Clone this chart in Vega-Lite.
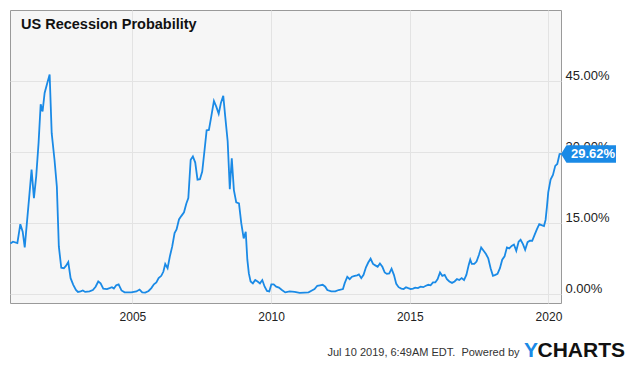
{
  "$schema": "https://vega.github.io/schema/vega-lite/v6.json",
  "width": 551,
  "height": 293,
  "autosize": {"type": "none"},
  "padding": {"left": 10, "top": 10, "right": 74, "bottom": 63},
  "background": "white",
  "config": {
    "view": {"fill": "#f6f6f6", "stroke": "#9a9a9a", "strokeWidth": 1},
    "font": "Liberation Sans"
  },
  "title": {
    "text": "US Recession Probability",
    "anchor": "start",
    "frame": "group",
    "orient": "top",
    "offset": 0,
    "dx": 11,
    "dy": 22,
    "fontSize": 14.5,
    "fontWeight": "bold",
    "color": "#111111"
  },
  "datasets": {
    "rp": [
      {"date": "2000-08-08", "value": 10.7},
      {"date": "2000-09-11", "value": 11.1},
      {"date": "2000-11-08", "value": 10.8},
      {"date": "2000-12-17", "value": 14.8},
      {"date": "2001-01-17", "value": 13.2},
      {"date": "2001-02-13", "value": 9.9},
      {"date": "2001-03-17", "value": 15.7},
      {"date": "2001-04-17", "value": 21.3},
      {"date": "2001-05-14", "value": 26.3},
      {"date": "2001-06-14", "value": 20.3},
      {"date": "2001-07-14", "value": 24.9},
      {"date": "2001-08-14", "value": 31.9},
      {"date": "2001-09-11", "value": 40.1},
      {"date": "2001-10-06", "value": 38.6},
      {"date": "2001-11-02", "value": 42.5},
      {"date": "2001-12-07", "value": 44.6},
      {"date": "2002-01-07", "value": 46.4},
      {"date": "2002-02-03", "value": 34.0},
      {"date": "2002-03-12", "value": 28.4},
      {"date": "2002-04-12", "value": 22.7},
      {"date": "2002-05-08", "value": 10.1},
      {"date": "2002-06-09", "value": 5.6},
      {"date": "2002-07-13", "value": 5.5},
      {"date": "2002-08-09", "value": 6.0},
      {"date": "2002-09-09", "value": 6.8},
      {"date": "2002-10-10", "value": 3.4},
      {"date": "2002-11-14", "value": 2.0},
      {"date": "2002-12-19", "value": 0.9},
      {"date": "2003-01-15", "value": 0.5},
      {"date": "2003-02-19", "value": 0.6},
      {"date": "2003-03-20", "value": 0.8},
      {"date": "2003-04-20", "value": 0.5},
      {"date": "2003-06-16", "value": 0.6},
      {"date": "2003-07-30", "value": 0.9},
      {"date": "2003-09-04", "value": 1.6},
      {"date": "2003-10-09", "value": 2.7},
      {"date": "2003-11-09", "value": 2.3},
      {"date": "2003-12-14", "value": 1.2},
      {"date": "2004-02-01", "value": 1.1},
      {"date": "2004-03-06", "value": 1.3},
      {"date": "2004-04-06", "value": 1.5},
      {"date": "2004-05-02", "value": 1.2},
      {"date": "2004-06-02", "value": 1.9},
      {"date": "2004-07-03", "value": 2.1},
      {"date": "2004-08-10", "value": 0.8},
      {"date": "2004-09-20", "value": 0.4},
      {"date": "2004-12-17", "value": 0.4},
      {"date": "2005-02-22", "value": 0.6},
      {"date": "2005-04-05", "value": 1.0},
      {"date": "2005-05-10", "value": 0.4},
      {"date": "2005-06-19", "value": 0.35},
      {"date": "2005-08-02", "value": 0.7},
      {"date": "2005-09-07", "value": 1.3},
      {"date": "2005-10-11", "value": 2.1},
      {"date": "2005-11-12", "value": 2.5},
      {"date": "2005-12-12", "value": 3.4},
      {"date": "2006-01-16", "value": 3.9},
      {"date": "2006-02-13", "value": 4.8},
      {"date": "2006-03-09", "value": 6.4},
      {"date": "2006-04-09", "value": 5.5},
      {"date": "2006-05-09", "value": 8.0},
      {"date": "2006-06-09", "value": 10.1},
      {"date": "2006-07-10", "value": 12.9},
      {"date": "2006-08-05", "value": 13.7},
      {"date": "2006-09-06", "value": 15.8},
      {"date": "2006-10-06", "value": 16.5},
      {"date": "2006-11-11", "value": 17.3},
      {"date": "2006-12-11", "value": 19.1},
      {"date": "2007-01-07", "value": 20.3},
      {"date": "2007-02-07", "value": 28.4},
      {"date": "2007-03-08", "value": 29.1},
      {"date": "2007-04-08", "value": 27.8},
      {"date": "2007-05-08", "value": 24.2},
      {"date": "2007-06-09", "value": 24.3},
      {"date": "2007-07-09", "value": 25.9},
      {"date": "2007-08-09", "value": 30.5},
      {"date": "2007-09-05", "value": 34.6},
      {"date": "2007-10-05", "value": 34.7},
      {"date": "2007-11-05", "value": 37.5},
      {"date": "2007-12-10", "value": 40.8},
      {"date": "2008-01-10", "value": 39.6},
      {"date": "2008-02-11", "value": 38.1},
      {"date": "2008-03-11", "value": 40.4},
      {"date": "2008-04-11", "value": 41.9},
      {"date": "2008-05-07", "value": 37.5},
      {"date": "2008-06-08", "value": 32.3},
      {"date": "2008-07-06", "value": 22.2},
      {"date": "2008-08-01", "value": 28.7},
      {"date": "2008-08-29", "value": 22.0},
      {"date": "2008-09-29", "value": 19.4},
      {"date": "2008-11-04", "value": 19.2},
      {"date": "2008-12-04", "value": 15.0},
      {"date": "2009-01-05", "value": 11.8},
      {"date": "2009-02-01", "value": 13.2},
      {"date": "2009-02-22", "value": 7.3},
      {"date": "2009-03-14", "value": 4.4},
      {"date": "2009-04-06", "value": 2.7},
      {"date": "2009-05-06", "value": 2.3},
      {"date": "2009-06-06", "value": 3.0},
      {"date": "2009-07-07", "value": 2.7},
      {"date": "2009-08-07", "value": 2.3},
      {"date": "2009-09-07", "value": 3.0},
      {"date": "2009-10-08", "value": 1.6},
      {"date": "2009-11-08", "value": 0.7},
      {"date": "2009-12-08", "value": 0.6},
      {"date": "2010-01-04", "value": 2.1},
      {"date": "2010-02-04", "value": 2.1},
      {"date": "2010-03-09", "value": 1.6},
      {"date": "2010-04-14", "value": 1.4},
      {"date": "2010-05-23", "value": 0.9},
      {"date": "2010-07-06", "value": 0.4},
      {"date": "2010-09-02", "value": 0.6},
      {"date": "2010-11-07", "value": 0.5},
      {"date": "2011-01-12", "value": 0.3},
      {"date": "2011-03-16", "value": 0.35},
      {"date": "2011-05-09", "value": 0.4},
      {"date": "2011-06-22", "value": 0.8},
      {"date": "2011-07-27", "value": 1.1},
      {"date": "2011-09-01", "value": 1.8},
      {"date": "2011-10-06", "value": 1.9},
      {"date": "2011-11-11", "value": 2.0},
      {"date": "2011-12-15", "value": 1.6},
      {"date": "2012-01-11", "value": 0.9},
      {"date": "2012-03-03", "value": 0.6},
      {"date": "2012-04-25", "value": 0.6},
      {"date": "2012-06-08", "value": 0.9},
      {"date": "2012-08-04", "value": 1.1},
      {"date": "2012-08-26", "value": 2.3},
      {"date": "2012-09-30", "value": 3.7},
      {"date": "2012-11-01", "value": 3.2},
      {"date": "2012-12-01", "value": 3.7},
      {"date": "2013-01-06", "value": 3.9},
      {"date": "2013-02-06", "value": 4.0},
      {"date": "2013-03-02", "value": 4.2},
      {"date": "2013-04-02", "value": 3.4},
      {"date": "2013-05-02", "value": 4.1},
      {"date": "2013-06-03", "value": 5.7},
      {"date": "2013-07-03", "value": 6.7},
      {"date": "2013-08-03", "value": 7.5},
      {"date": "2013-09-04", "value": 6.4},
      {"date": "2013-10-04", "value": 6.1},
      {"date": "2013-11-04", "value": 5.8},
      {"date": "2013-12-04", "value": 6.5},
      {"date": "2014-01-05", "value": 5.8},
      {"date": "2014-02-05", "value": 4.6},
      {"date": "2014-03-05", "value": 4.3},
      {"date": "2014-04-06", "value": 4.4},
      {"date": "2014-05-06", "value": 5.4},
      {"date": "2014-06-06", "value": 4.1},
      {"date": "2014-07-07", "value": 2.2},
      {"date": "2014-08-07", "value": 1.5},
      {"date": "2014-09-11", "value": 1.2},
      {"date": "2014-10-12", "value": 1.1},
      {"date": "2014-11-12", "value": 1.5},
      {"date": "2014-12-12", "value": 1.3},
      {"date": "2015-01-13", "value": 1.1},
      {"date": "2015-02-13", "value": 1.2},
      {"date": "2015-03-13", "value": 1.4},
      {"date": "2015-04-18", "value": 1.3},
      {"date": "2015-05-23", "value": 1.6},
      {"date": "2015-06-27", "value": 1.5},
      {"date": "2015-08-01", "value": 1.8},
      {"date": "2015-09-02", "value": 2.0},
      {"date": "2015-10-02", "value": 1.9},
      {"date": "2015-11-02", "value": 2.5},
      {"date": "2015-12-03", "value": 2.5},
      {"date": "2016-01-03", "value": 3.2},
      {"date": "2016-02-03", "value": 4.6},
      {"date": "2016-03-04", "value": 3.9},
      {"date": "2016-04-04", "value": 4.1},
      {"date": "2016-05-04", "value": 3.2},
      {"date": "2016-06-05", "value": 2.7},
      {"date": "2016-07-10", "value": 2.4},
      {"date": "2016-08-13", "value": 2.7},
      {"date": "2016-09-13", "value": 3.2},
      {"date": "2016-10-14", "value": 3.0},
      {"date": "2016-11-14", "value": 3.4},
      {"date": "2016-12-15", "value": 3.0},
      {"date": "2017-01-15", "value": 4.1},
      {"date": "2017-02-15", "value": 6.2},
      {"date": "2017-03-07", "value": 7.3},
      {"date": "2017-03-28", "value": 6.4},
      {"date": "2017-04-29", "value": 6.4},
      {"date": "2017-05-29", "value": 6.9},
      {"date": "2017-06-29", "value": 8.3},
      {"date": "2017-07-29", "value": 9.9},
      {"date": "2017-08-30", "value": 9.2},
      {"date": "2017-09-30", "value": 8.5},
      {"date": "2017-10-30", "value": 7.6},
      {"date": "2017-11-30", "value": 5.5},
      {"date": "2017-12-31", "value": 3.9},
      {"date": "2018-02-01", "value": 4.1},
      {"date": "2018-03-01", "value": 4.3},
      {"date": "2018-04-02", "value": 5.5},
      {"date": "2018-05-02", "value": 7.3},
      {"date": "2018-06-02", "value": 8.0},
      {"date": "2018-07-03", "value": 9.9},
      {"date": "2018-08-03", "value": 9.7},
      {"date": "2018-09-03", "value": 10.2},
      {"date": "2018-10-03", "value": 10.5},
      {"date": "2018-11-03", "value": 9.2},
      {"date": "2018-12-04", "value": 11.1},
      {"date": "2018-12-30", "value": 11.5},
      {"date": "2019-01-30", "value": 10.6},
      {"date": "2019-02-28", "value": 9.4},
      {"date": "2019-04-01", "value": 11.0},
      {"date": "2019-05-01", "value": 11.3},
      {"date": "2019-06-01", "value": 11.3},
      {"date": "2019-07-01", "value": 12.5},
      {"date": "2019-08-01", "value": 13.7},
      {"date": "2019-09-02", "value": 14.8},
      {"date": "2019-10-02", "value": 14.6},
      {"date": "2019-11-03", "value": 14.4},
      {"date": "2019-11-24", "value": 15.7},
      {"date": "2019-12-12", "value": 18.5},
      {"date": "2019-12-29", "value": 21.5},
      {"date": "2020-01-29", "value": 24.2},
      {"date": "2020-02-29", "value": 25.2},
      {"date": "2020-03-30", "value": 27.1},
      {"date": "2020-04-26", "value": 27.5},
      {"date": "2020-05-26", "value": 29.6},
      {"date": "2020-06-14", "value": 29.62}
    ],
    "last": [{"date": "2020-06-14", "value": 29.62, "label": "29.62%"}]
  },
  "layer": [
    {
      "data": {"name": "rp"},
      "mark": {"type": "line", "color": "#1a8ae6", "strokeWidth": 1.8},
      "encoding": {
        "x": {
          "field": "date",
          "type": "temporal",
          "scale": {"domain": [{"year": 2000, "month": 8, "date": 3}, {"year": 2020, "month": 6, "date": 14}]},
          "axis": {
            "values": [{"year": 2005}, {"year": 2010}, {"year": 2015}, {"year": 2020}],
            "format": "%Y",
            "grid": true,
            "gridColor": "#e3e3e3",
            "ticks": false,
            "domain": false,
            "labelFontSize": 12,
            "labelColor": "#222222",
            "labelBaseline": "alphabetic",
            "labelPadding": 17,
            "title": "Jul 10 2019, 6:49AM EDT.\u00a0\u00a0Powered by",
            "titleX": 509,
            "titleY": 52,
            "titleAlign": "right",
            "titleAnchor": null,
            "titleBaseline": "alphabetic",
            "titleFontSize": 11,
            "titleFontWeight": "normal",
            "titleColor": "#333333"
          }
        },
        "y": {
          "field": "value",
          "type": "quantitative",
          "scale": {"domain": [-1.84, 60], "nice": false, "zero": false},
          "axis": {
            "orient": "right",
            "values": [0, 15, 30, 45],
            "labelExpr": "format(datum.value, '.2f') + '%'",
            "grid": true,
            "gridColor": "#e3e3e3",
            "ticks": false,
            "domain": false,
            "labelFontSize": 13,
            "labelColor": "#222222",
            "labelBaseline": "alphabetic",
            "labelOffset": -2,
            "labelPadding": 4,
            "title": "CHARTS",
            "titleAngle": 0,
            "titleX": -24,
            "titleY": 346.5,
            "titleAlign": "left",
            "titleAnchor": null,
            "titleBaseline": "alphabetic",
            "titleFontSize": 21,
            "titleFontWeight": "bold",
            "titleColor": "#111111"
          }
        }
      }
    },
    {
      "data": {"name": "last"},
      "mark": {
        "type": "point",
        "shape": "M0,0 L0.2,-0.32 L2,-0.32 L2,0.32 L0.2,0.32 Z",
        "filled": true,
        "opacity": 1,
        "size": 3025,
        "color": "#1a8ae6"
      },
      "encoding": {
        "x": {"field": "date", "type": "temporal"},
        "y": {
          "field": "value",
          "type": "quantitative",
          "scale": {"domain": [-1.84, 60], "nice": false, "zero": false},
          "axis": {
            "orient": "left",
            "labels": false,
            "ticks": false,
            "domain": false,
            "grid": false,
            "title": "Y",
            "titleAngle": 0,
            "titleX": 513.5,
            "titleY": 346.5,
            "titleAlign": "left",
            "titleAnchor": null,
            "titleBaseline": "alphabetic",
            "titleFontSize": 21,
            "titleFontWeight": "bold",
            "titleColor": "#1a8ae6"
          }
        }
      }
    },
    {
      "data": {"name": "last"},
      "mark": {
        "type": "text",
        "align": "left",
        "baseline": "middle",
        "dx": 10,
        "fontSize": 13,
        "fontWeight": "bold",
        "color": "white"
      },
      "encoding": {
        "x": {"field": "date", "type": "temporal"},
        "y": {
          "field": "value",
          "type": "quantitative",
          "scale": {"domain": [-1.84, 60], "nice": false, "zero": false},
          "axis": null
        },
        "text": {"field": "label"}
      }
    }
  ],
  "resolve": {"scale": {"y": "independent"}}
}
